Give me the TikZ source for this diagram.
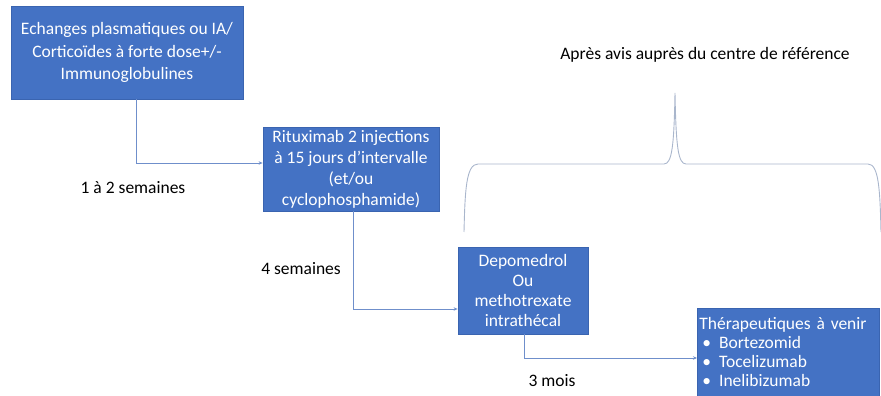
\documentclass[tikz,border=0pt]{standalone}
\usepackage{fontspec}
\setmainfont{Carlito}
\usetikzlibrary{arrows.meta,calc}
\definecolor{boxblue}{HTML}{4472C4}
\definecolor{boxedge}{HTML}{3A64B0}
\definecolor{connblue}{HTML}{6F8FCB}
\definecolor{bracecol}{HTML}{A9B6CC}
\tikzset{
  box/.style={draw=boxedge, line width=0.8pt, fill=boxblue, text=white, align=center, inner sep=0pt,
    font=\fontsize{17.5}{21}\selectfont},
  conn/.style={draw=connblue, line width=0.8pt, -{Stealth[length=4pt,width=3.5pt]}},
  lbl/.style={font=\fontsize{17.5}{20}\selectfont, text=black, inner sep=0pt}
}
\begin{document}
\begin{tikzpicture}[x=1pt,y=1pt]
\useasboundingbox (0,0) rectangle (881,396);
\node[box, minimum width=232pt, minimum height=93pt, font=\fontsize{17.5}{22.5}\selectfont] (b1) at (127,343.5)
  {Echanges plasmatiques ou IA/\\Corticoïdes à forte dose+/-\\Immunoglobulines};
\node[box, minimum width=176pt, minimum height=84pt] (b2) at (351,227)
  {Rituximab 2 injections\\à 15 jours d’intervalle\\(et/ou\\cyclophosphamide)};
\node[box, minimum width=130pt, minimum height=87pt, font=\fontsize{17.5}{20.3}\selectfont] (b3) at (523,105.5)
  {Depomedrol\\Ou\\methotrexate\\intrathécal};
\node[box, minimum width=182pt, minimum height=88pt, align=left, anchor=west, text width=178pt, inner xsep=2pt,
  font=\fontsize{17.5}{18.7}\selectfont] (b4) at (697,44)
  {Thérapeutiques à venir\\
   \hspace*{3pt}\textbullet\hspace{8pt}Bortezomid\\
   \hspace*{3pt}\textbullet\hspace{8pt}Tocelizumab\\
   \hspace*{3pt}\textbullet\hspace{8pt}Inelibizumab};
\draw[conn] ([xshift=9pt]b1.south) |- ([yshift=6pt]b2.west);
\draw[conn] ([xshift=2pt]b2.south) |- ([yshift=-18.5pt]b3.west);
\draw[conn] ([xshift=1pt]b3.south) |- ([yshift=-6pt]b4.west);
\node[lbl] (l1) at (133,208) {1 à 2 semaines};
\node[lbl] (l2) at (301,127) {4 semaines};
\node[lbl] (l3) at (552,15) {3 mois};
\node[lbl] (t) at (705,341) {Après avis auprès du centre de référence};
\draw[bracecol, line width=0.9pt]
  (464,164) .. controls (465,205) and (466,232) .. (478,232)
  -- (664,232) .. controls (672,232) and (674,250) .. (675,303)
  .. controls (676,250) and (678,232) .. (686,232)
  -- (868,232) .. controls (879,232) and (880,205) .. (881,164);
\end{tikzpicture}
\end{document}
